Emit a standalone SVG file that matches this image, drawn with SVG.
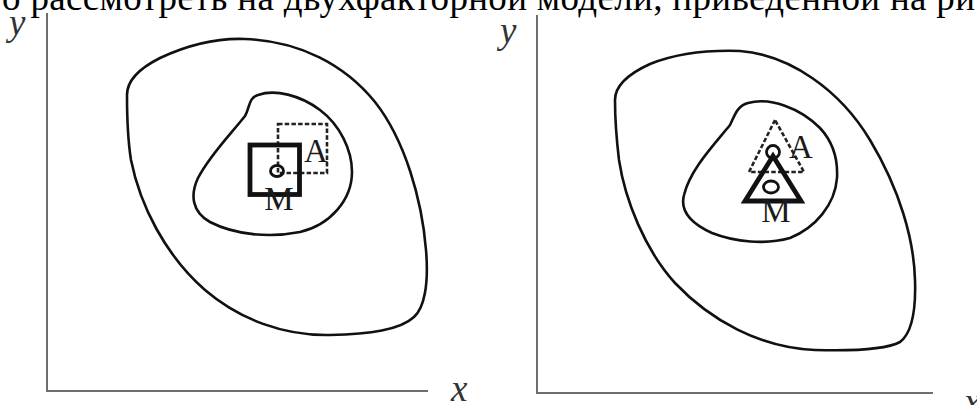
<svg xmlns="http://www.w3.org/2000/svg" width="977" height="405" viewBox="0 0 977 405">
<style>
.bg{fill:#fff}
.ax{stroke:#6e6e6e;stroke-width:2;fill:none}
.cv{stroke:#111;stroke-width:2.6;fill:none}
.sq{stroke:#111;stroke-width:4.8;fill:none;stroke-linejoin:miter}
.ds{stroke:#222;stroke-width:2.6;fill:none;stroke-dasharray:4.5 2.2}
.ring{stroke:#111;stroke-width:2.8;fill:none}
.lbl{font-family:"Liberation Serif","Times New Roman",serif;font-size:33px;fill:#1a1a1a}
.axl{font-family:"Liberation Serif","Times New Roman",serif;font-style:italic;font-size:37px;fill:#333}
.top{font-family:"Liberation Serif","Times New Roman",serif;font-size:37px;fill:#000}
</style>
<rect class="bg" x="0" y="0" width="977" height="405"/>
<text class="top" x="2" y="10" textLength="973" lengthAdjust="spacing">о рассмотреть на двухфакторной модели, приведенной на ри</text>

<g id="left-panel">
  <g id="left-axes">
    <line class="ax" x1="47" y1="13" x2="47" y2="391"/>
    <line class="ax" x1="46" y1="391" x2="428" y2="391"/>
    <text class="axl" x="9" y="35">y</text>
    <text class="axl" x="451" y="401">x</text>
  </g>
  <g id="left-outer">
    <path class="cv" d="M127,95 C127,80 140,68 160,58 C190,44 220,38 245,39 C300,41 345,65 375,102 C405,140 422,200 426,250 C429,285 424,308 414,317 C400,330 370,334 330,335 C285,336 240,320 205,290 C165,255 140,205 131,160 C127,135 127,110 127,95 Z"/>
  </g>
  <g id="left-inner">
    <path class="cv" d="M245,116 C250,108 248,98 258,95 C275,89 300,95 320,110 C340,125 352,150 352,172 C352,200 330,225 300,232 C270,238 235,235 210,222 C192,212 190,195 198,178 C210,155 230,135 245,116 Z"/>
  </g>
  <g id="left-A">
    <rect class="ds" x="278" y="124" width="49" height="49"/>
    <text class="lbl" x="304" y="162">A</text>
  </g>
  <g id="left-M">
    <rect class="sq" x="250" y="145" width="49.5" height="49.5"/>
    <ellipse class="ring" cx="277" cy="171" rx="6.5" ry="5.5"/>
    <text class="lbl" x="279" y="210" text-anchor="middle">M</text>
  </g>
</g>

<g id="right-panel">
  <g id="right-axes">
    <line class="ax" x1="537" y1="15" x2="537" y2="393"/>
    <line class="ax" x1="536" y1="393" x2="933" y2="393"/>
    <text class="axl" x="500" y="43">y</text>
    <text class="axl" x="964" y="414">x</text>
  </g>
  <g id="right-outer">
    <path class="cv" d="M615,100 C615,85 628,74 650,64 C680,52 710,50 740,51 C790,55 840,90 870,140 C900,190 914,240 915,280 C916,310 912,333 900,342 C885,350 850,351 815,350 C760,348 710,320 675,283 C645,250 625,200 619,160 C616,135 615,115 615,100 Z"/>
  </g>
  <g id="right-inner">
    <path class="cv" d="M730,125 C735,115 737,106 748,103 C770,97 800,108 820,128 C833,142 838,160 837,178 C835,205 815,228 790,238 C765,245 735,242 712,233 C690,223 680,210 684,195 C690,170 712,147 730,125 Z"/>
  </g>
  <g id="right-A">
    <polygon class="ds" points="775,120 749,172 804,172"/>
    <circle class="ring" cx="773" cy="152" r="6.5" stroke-width="3.2"/>
    <text class="lbl" x="789" y="158">A</text>
  </g>
  <g id="right-M">
    <polygon class="sq" points="773,156 745,201 801,201"/>
    <ellipse class="ring" cx="771" cy="187" rx="7.5" ry="6"/>
    <text class="lbl" x="776" y="222" text-anchor="middle">M</text>
  </g>
</g>
</svg>
